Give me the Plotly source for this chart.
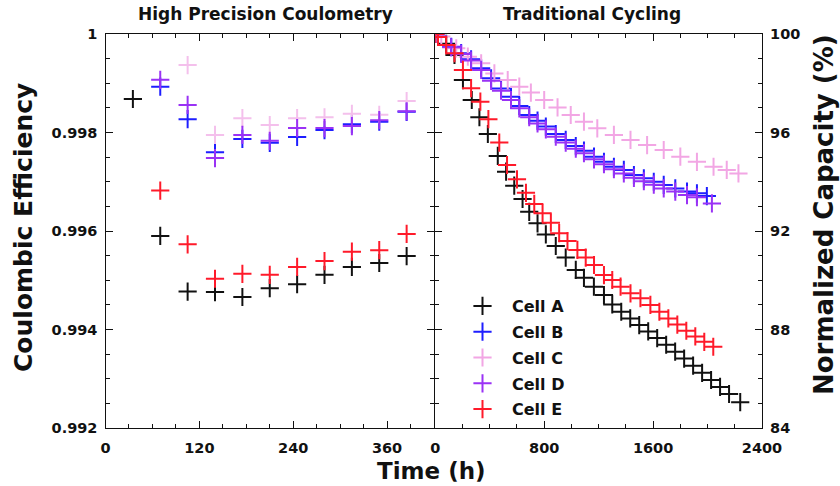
import plotly.graph_objects as go

# ---------------- data ----------------
cells = ["Cell A", "Cell B", "Cell C", "Cell D", "Cell E"]
colors = ["#111111", "#1e1eff", "#f2a6e4", "#9a32f5", "#ff1a2a"]
colors_left = ["#111111", "#1e1eff", "#f4c0ec", "#9a32f5", "#ff1a2a"]

# High precision coulometry (left panel)
hpc_time = [35, 70, 105, 140, 175, 210, 245, 280, 315, 350, 385]
hpc_A = [0.99868, 0.99590, 0.99477, 0.99476, 0.99466, 0.99484, 0.99492, 0.99511, 0.99527, 0.99535, 0.99549]
hpc_B = [None, 0.99893, 0.99827, 0.99760, 0.99787, 0.99779, 0.99791, 0.99805, 0.99817, 0.99822, 0.99842]
hpc_C = [None, None, 0.99937, 0.99795, 0.99829, 0.99815, 0.99829, 0.99831, 0.99838, 0.99836, 0.99864]
hpc_D = [None, 0.99907, 0.99856, 0.99748, 0.99795, 0.99783, 0.99809, 0.99809, 0.99813, 0.99825, 0.99843]
hpc_E = [None, 0.99682, 0.99573, 0.99503, 0.99513, 0.99511, 0.99527, 0.99539, 0.99558, 0.99561, 0.99594]

# Traditional cycling (right panel)
tc_time_A = [0, 20, 80, 141, 203, 268, 324, 386, 459, 520, 580, 641, 690, 751, 812, 885, 958, 1032,
             1092, 1165, 1239, 1300, 1366, 1432, 1498, 1564, 1630, 1696, 1762, 1828, 1894, 1960,
             2026, 2092, 2158, 2240]
tc_cap_A = [100.0, 99.88, 99.6, 99.15, 98.13, 97.32, 96.62, 95.94, 95.05, 94.41, 93.84, 93.30, 92.78,
            92.31, 91.86, 91.39, 90.92, 90.42, 90.10, 89.74, 89.40, 89.02, 88.72, 88.45, 88.18,
            87.92, 87.65, 87.38, 87.10, 86.82, 86.53, 86.24, 85.95, 85.67, 85.38, 85.05]

tc_time_B = [0, 20, 117, 190, 263, 337, 410, 483, 556, 617, 690, 751, 812, 885, 958, 1032, 1092,
             1166, 1239, 1312, 1385, 1459, 1532, 1605, 1678, 1763, 1849, 1922, 1995]
tc_cap_B = [100.0, 99.9, 99.48, 99.22, 98.97, 98.61, 98.20, 97.79, 97.45, 97.08, 96.71, 96.48, 96.24,
            95.94, 95.70, 95.45, 95.26, 95.02, 94.81, 94.61, 94.48, 94.27, 94.14, 94.00, 93.87,
            93.73, 93.60, 93.53, 93.42]

tc_time_C = [0, 44, 154, 239, 337, 434, 532, 617, 702, 800, 898, 995, 1092, 1190, 1312, 1434, 1556,
             1678, 1800, 1922, 2044, 2141, 2227]
tc_cap_C = [100.0, 99.9, 99.42, 99.08, 98.81, 98.40, 98.13, 97.86, 97.62, 97.32, 97.02, 96.71, 96.44,
            96.17, 95.90, 95.70, 95.49, 95.29, 95.02, 94.81, 94.61, 94.48, 94.34]

tc_time_D = [0, 20, 117, 190, 263, 337, 410, 483, 556, 617, 690, 751, 812, 885, 958, 1032, 1092,
             1166, 1239, 1312, 1385, 1459, 1532, 1605, 1678, 1763, 1849, 1922, 2032]
tc_cap_D = [100.0, 99.9, 99.46, 99.19, 98.92, 98.54, 98.10, 97.70, 97.32, 96.98, 96.62, 96.37, 96.13,
            95.83, 95.59, 95.34, 95.16, 94.91, 94.71, 94.51, 94.34, 94.16, 94.02, 93.88, 93.73,
            93.60, 93.46, 93.37, 93.12]

tc_time_E = [0, 20, 80, 141, 203, 263, 331, 390, 470, 527, 600, 666, 727, 788, 849, 910, 971, 1044,
             1105, 1166, 1239, 1300, 1361, 1434, 1507, 1580, 1646, 1712, 1778, 1844, 1910, 1976, 2042]
tc_cap_E = [100.0, 99.88, 99.55, 99.22, 98.54, 97.80, 97.25, 96.54, 95.59, 94.68, 94.10, 93.55, 93.10,
            92.72, 92.34, 91.91, 91.59, 91.23, 90.92, 90.62, 90.21, 90.01, 89.74, 89.47, 89.27,
            89.00, 88.72, 88.45, 88.20, 87.95, 87.72, 87.50, 87.30]

hpc_series = [hpc_A, hpc_B, hpc_C, hpc_D, hpc_E]
tc_series = [(tc_time_A, tc_cap_A), (tc_time_B, tc_cap_B), (tc_time_C, tc_cap_C),
             (tc_time_D, tc_cap_D), (tc_time_E, tc_cap_E)]

# ---------------- figure ----------------
FONT = "DejaVu Sans"
fig = go.Figure()

for name, col, yv in zip(cells, colors_left, hpc_series):
    fig.add_trace(go.Scatter(
        x=hpc_time, y=yv, mode="markers", name=name, showlegend=False,
        legendgroup=name, xaxis="x", yaxis="y",
        marker=dict(symbol="cross-thin", size=13, color=col, line=dict(width=2, color=col)),
    ))

for name, col, (tx, ty) in zip(cells, colors, tc_series):
    fig.add_trace(go.Scatter(
        x=tx, y=ty, mode="markers", name=name, showlegend=True,
        legendgroup=name, xaxis="x2", yaxis="y2",
        marker=dict(symbol="cross-thin", size=13, color=col, line=dict(width=2, color=col)),
    ))

tickfont = dict(family=FONT, size=14.5, color="#111", weight="bold")
common = dict(showgrid=False, zeroline=False, showline=True, linecolor="#111", linewidth=1.3,
              mirror="allticks", ticks="inside", ticklen=7, tickwidth=1.3, tickcolor="#111",
              tickfont=tickfont, automargin=False)
minor_style = dict(ticks="inside", ticklen=4, tickwidth=1.1, tickcolor="#111")

x_l, x_m, x_r = 105.5 / 840, 434 / 840, 762 / 840
x_m2 = 435.3 / 840
y_b, y_t = 1 - 428 / 486, 1 - 34 / 486

fig.update_layout(
    template="none",
    width=840, height=486,
    margin=dict(l=0, r=0, t=0, b=0, autoexpand=False),
    paper_bgcolor="white", plot_bgcolor="white",
    xaxis=dict(domain=[x_l, x_m], range=[0, 420], tickvals=[0, 120, 240, 360], anchor="y",
               minor=dict(dtick=30, **minor_style), ticklabelstandoff=6, **common),
    yaxis=dict(domain=[y_b, y_t], range=[0.992, 1.0], anchor="x",
               tickvals=[0.992, 0.994, 0.996, 0.998, 1.0],
               ticktext=["0.992", "0.994", "0.996", "0.998", "1"],
               minor=dict(dtick=0.0005, **minor_style), ticklabelstandoff=4, **common),
    xaxis2=dict(domain=[x_m2, x_r], range=[0, 2400], tickvals=[0, 800, 1600, 2400], anchor="y2",
                minor=dict(dtick=200, **minor_style), ticklabelstandoff=6, **common),
    yaxis2=dict(domain=[y_b, y_t], range=[84, 100], anchor="x2", side="right",
                tickvals=[84, 88, 92, 96, 100],
                minor=dict(dtick=1, **minor_style), ticklabelstandoff=4, **common),
    legend=dict(x=453 / 840, xanchor="left", y=1 - 289 / 486, yanchor="top",
                bgcolor="rgba(0,0,0,0)", borderwidth=0, itemwidth=49, tracegroupgap=2,
                font=dict(family=FONT, size=16, color="#111", weight="bold")),
    showlegend=True,
)

title_font = dict(family=FONT, size=17, color="#111", weight="bold")
big_font = dict(family=FONT, size=23, color="#111", weight="bold")
fig.add_annotation(text="High Precision Coulometry", x=(x_l + x_m) / 2 - 0.005, y=1 - 14 / 486,
                   xref="paper", yref="paper", showarrow=False, font=title_font,
                   xanchor="center", yanchor="middle")
fig.add_annotation(text="Traditional Cycling", x=592 / 840, y=1 - 14 / 486,
                   xref="paper", yref="paper", showarrow=False, font=title_font,
                   xanchor="center", yanchor="middle")
fig.add_annotation(text="Time (h)", x=432 / 840, y=1 - 471 / 486,
                   xref="paper", yref="paper", showarrow=False, font=big_font,
                   xanchor="center", yanchor="middle")
fig.add_annotation(text="Coulombic Efficiency", x=23 / 840, y=1 - 228 / 486,
                   xref="paper", yref="paper", showarrow=False, textangle=-90,
                   font=dict(family=FONT, size=25, color="#111", weight="bold"),
                   xanchor="center", yanchor="middle")
fig.add_annotation(text="Normalized Capacity (%)", x=824 / 840, y=1 - 215 / 486,
                   xref="paper", yref="paper", showarrow=False, textangle=-90,
                   font=dict(family=FONT, size=26, color="#111", weight="bold"),
                   xanchor="center", yanchor="middle")

fig.write_html("out.html")
